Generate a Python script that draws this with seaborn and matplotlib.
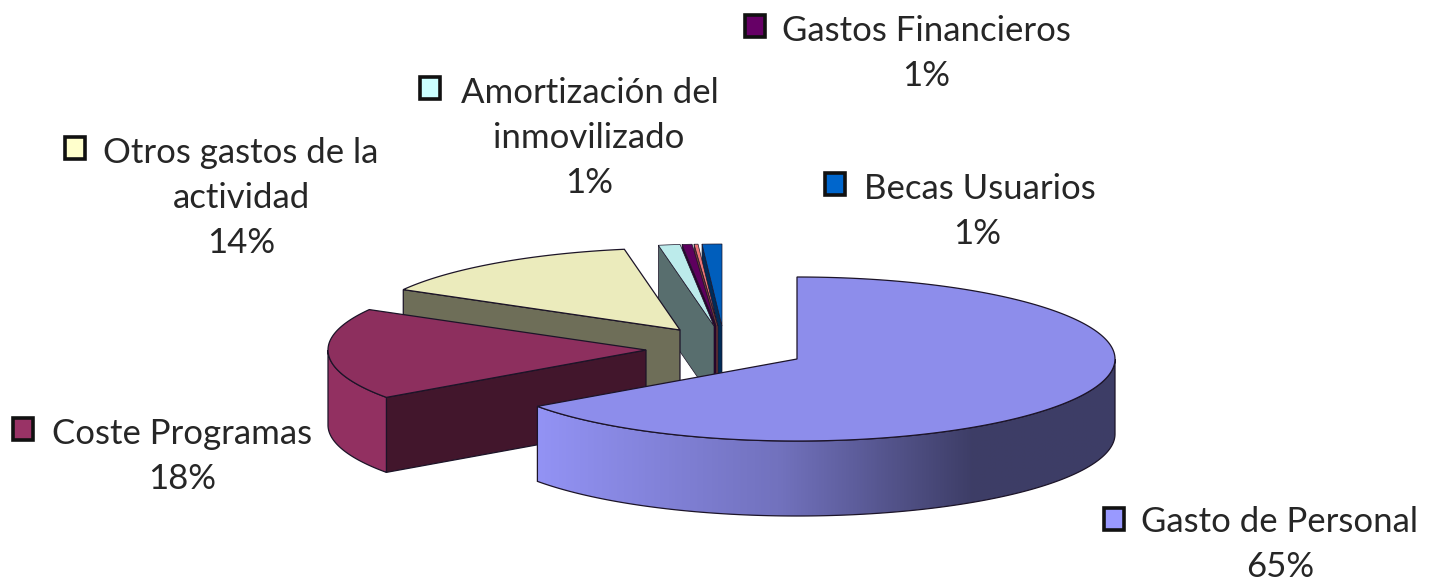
import numpy as np
import matplotlib
matplotlib.use("Agg")
import matplotlib.pyplot as plt
from matplotlib.patches import Polygon, Rectangle
from matplotlib.colors import to_rgb
import seaborn as sns

# ---- data ----
categories = ["Gasto de Personal", "Coste Programas", "Otros gastos de la actividad",
              "Amortización del inmovilizado", "Gastos Financieros", "", "Becas Usuarios"]
shares = [65.2, 18.0, 14.0, 1.1, 0.5, 0.2, 1.0]
percent_labels = ["65%", "18%", "14%", "1%", "1%", "", "1%"]
label_lines = [["Gasto de Personal"], ["Coste Programas"],
               ["Otros gastos de la", "actividad"],
               ["Amortización del", "inmovilizado"],
               ["Gastos Financieros"], [], ["Becas Usuarios"]]

# ---- styles and layout ----
colors = ["#9999FF", "#993366", "#FFFFCC", "#CCFFFF", "#660066", "#FF8080", "#0066CC"]
apex_x = [797, 646, 680, 714, 716, 718, 722]
apex_y = [359, 350, 330, 326, 326, 326, 326]
legend_x = [1102, 11, 63, 418, 743, None, 823]
text_x = [1141, 52, 103, 461, 782, None, 864]
first_y = [522, 434, 153, 93, 31, None, 189]
center_x = [1280, 182, 241, 589, 926, None, 977]
RX, RY, DEPTH = 318, 82, 75
TOP, FACE = 0.92, 0.43
EDGE = "#1c1428"
LINE_H = 45
FS = 25

sns.set_theme(style="white")
plt.rcParams["font.family"] = ["Lato", "DejaVu Sans"]

fig = plt.figure(figsize=(14.37, 5.83), dpi=100, facecolor="white")
ax = fig.add_axes([0, 0, 1, 1])
ax.set_xlim(0, 1437)
ax.set_ylim(583, 0)
ax.axis("off")


def scale(c, f):
    return tuple(np.array(to_rgb(c)) * f)


def rim(ax0, ay0, t):
    r = np.radians(t)
    return ax0 + RX * np.sin(r), ay0 - RY * np.cos(r)


def side_gradient(ax_, base, ax0, poly_xy, z):
    xs = poly_xy[:, 0]
    x0, x1 = xs.min(), xs.max()
    pal = sns.blend_palette([scale(base, 0.96), scale(base, 0.74), scale(base, 0.40),
                             scale(base, 0.40)], 256)
    stops = np.array([-0.82, -0.05, 0.55, 1.0])
    grid = np.interp(np.linspace(x0, x1, 512), ax0 + RX * stops, [0, 85, 170, 255]).astype(int)
    img = np.array(pal)[grid][None, :, :]
    im = ax_.imshow(img, extent=(x0, x1, poly_xy[:, 1].max(), poly_xy[:, 1].min()),
                    aspect="auto", zorder=z, interpolation="bilinear")
    clip = Polygon(poly_xy, closed=True, transform=ax_.transData, fc="none", ec="none")
    ax_.add_patch(clip)
    im.set_clip_path(clip)


z = 1.0
ends = np.cumsum(shares) / np.sum(shares) * 360
starts = np.concatenate([[0], ends[:-1]])

# painter's order: from the back slices on the right to the front
for i in [6, 5, 4, 3, 2, 1, 0]:
    t0, t1 = starts[i], ends[i]
    a, b = apex_x[i], apex_y[i]
    c = colors[i]
    lw = 0.9 if shares[i] > 1.5 else 0.5

    # radial face on the leading edge
    if t0 > 90:
        rx0, ry0 = rim(a, b, t0)
        ax.add_patch(Polygon([(a, b), (rx0, ry0), (rx0, ry0 + DEPTH), (a, b + DEPTH)],
                             closed=True, fc=scale(c, FACE), ec=EDGE, lw=lw, zorder=z))
        z += 0.01

    # outer wall, front half only
    lo, hi = max(t0, 90), min(t1, 270)
    if hi > lo:
        ts = np.linspace(lo, hi, 200)
        px, py = rim(a, b, ts)
        wall = np.vstack([np.column_stack([px, py]),
                          np.column_stack([px[::-1], py[::-1] + DEPTH])])
        side_gradient(ax, c, a, wall, z)
        z += 0.01
        ax.add_patch(Polygon(wall, closed=True, fc="none", ec=EDGE, lw=lw, zorder=z))
        z += 0.01

    # top face
    ts = np.linspace(t0, t1, 300)
    px, py = rim(a, b, ts)
    top = np.vstack([[a, b], np.column_stack([px, py])])
    ax.add_patch(Polygon(top, closed=True, fc=scale(c, TOP), ec=EDGE, lw=lw, zorder=z))
    z += 0.01

# labels
for i, lines in enumerate(label_lines):
    if not lines:
        continue
    y = first_y[i]
    ax.add_patch(Rectangle((legend_x[i] + 1.5, y - 14 if i == 0 else y - 16), 20, 22,
                           fc=colors[i], ec="#111111", lw=2.6, zorder=20))
    ax.text(text_x[i], y, lines[0], ha="left", va="center", fontsize=FS, color="#262626", zorder=21)
    for k, extra in enumerate(lines[1:], start=1):
        ax.text(center_x[i], y + k * LINE_H, extra, ha="center", va="center", fontsize=FS,
                color="#262626", zorder=21)
    ax.text(center_x[i], y + len(lines) * LINE_H, percent_labels[i],
            ha="center", va="center", fontsize=FS, color="#262626", zorder=21)

ax.set_xlim(0, 1437)
ax.set_ylim(583, 0)
fig.savefig("out.png", dpi=100, facecolor="white")
